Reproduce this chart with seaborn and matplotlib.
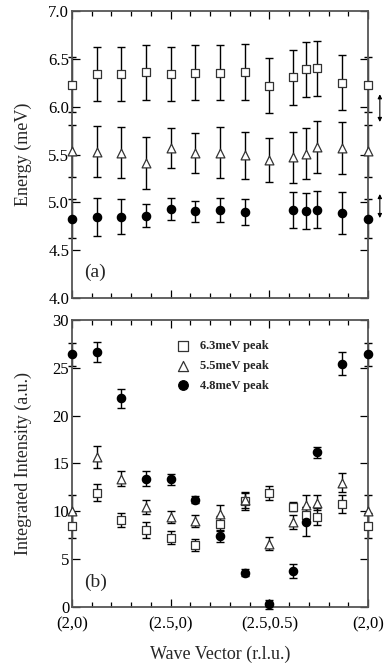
import numpy as np
import pandas as pd
import matplotlib
matplotlib.use("Agg")
import matplotlib.pyplot as plt
from matplotlib.ticker import MultipleLocator, FixedLocator, FormatStrFormatter
import seaborn as sns

# ---------------- data ----------------
qpos = [0.0, 0.25, 0.5, 0.75, 1.0, 1.25, 1.5, 1.75, 2.0, 2.24, 2.37, 2.48, 2.74, 3.0]
qtick_pos = [0, 1, 2, 3]
qtick_labels = ["(2,0)", "(2.5,0)", "(2.5,0.5)", "(2,0)"]

E63 = [6.23, 6.34, 6.34, 6.36, 6.34, 6.355, 6.355, 6.365, 6.22, 6.305, 6.39, 6.40, 6.25, 6.23]
E63_err = [0.29, 0.28, 0.28, 0.285, 0.28, 0.285, 0.285, 0.29, 0.29, 0.285, 0.285, 0.285, 0.285, 0.29]
E55 = [5.54, 5.53, 5.52, 5.41, 5.57, 5.52, 5.52, 5.49, 5.44, 5.47, 5.51, 5.58, 5.57, 5.54]
E55_err = [0.27, 0.265, 0.265, 0.27, 0.21, 0.21, 0.27, 0.245, 0.23, 0.27, 0.27, 0.275, 0.27, 0.27]
E48 = [4.83, 4.85, 4.85, 4.86, 4.93, 4.905, 4.92, 4.90, np.nan, 4.92, 4.91, 4.925, 4.885, 4.83]
E48_err = [0.2, 0.2, 0.185, 0.12, 0.115, 0.11, 0.13, 0.135, np.nan, 0.185, 0.19, 0.19, 0.22, 0.2]

I63 = [8.5, 11.93, 9.07, 8.03, 7.26, 6.46, 8.72, 11.06, 11.93, 10.5, 9.6, 9.45, 10.8, 8.5]
I63_err = [1.3, 0.9, 0.75, 0.85, 0.65, 0.6, 0.8, 0.95, 0.75, 0.5, 0.8, 0.85, 0.95, 1.3]
I55 = [10.0, 15.7, 13.43, 10.47, 9.42, 8.97, 9.77, 11.16, 6.63, 8.85, 10.7, 10.9, 12.98, 10.0]
I55_err = [1.7, 1.15, 0.75, 0.75, 0.6, 0.6, 0.9, 0.8, 0.7, 0.75, 1.05, 0.8, 1.0, 1.7]
I48 = [26.41, 26.62, 21.8, 13.43, 13.33, 11.23, 7.40, 3.6, 0.28, 3.77, 8.9, 16.15, 25.45, 26.41]
I48_err = [1.2, 1.05, 0.95, 0.75, 0.55, 0.4, 0.65, 0.35, 0.45, 0.75, 1.5, 0.6, 1.17, 1.2]

labels = ["6.3meV peak", "5.5meV peak", "4.8meV peak"]

# ---------------- style ----------------
sns.set_style("ticks")
plt.rcParams["font.family"] = ["Liberation Serif", "DejaVu Serif"]
plt.rcParams["axes.linewidth"] = 1.3
plt.rcParams["axes.edgecolor"] = "#555555"

fig = plt.figure(figsize=(3.89, 6.67), dpi=100)
ax1 = fig.add_axes([0.185, 0.5532, 0.761, 0.4303])
ax2 = fig.add_axes([0.185, 0.09, 0.761, 0.4302], sharex=ax1)

styles = [
    dict(marker="s", facecolor="white", edgecolor="#333333", s=38),
    dict(marker="^", facecolor="white", edgecolor="#333333", s=40),
    dict(marker="o", facecolor="black", edgecolor="black", s=36),
]


def draw(ax, ys, errs):
    for y, e, st, lab in zip(ys, errs, styles, labels):
        eb = ax.errorbar(qpos, y, yerr=e, fmt="none", ecolor="black",
                         elinewidth=1.0, capsize=3.2, capthick=1.0, zorder=2)
        for child in eb.get_children():
            child.set_clip_on(False)
        df = pd.DataFrame({"q": qpos, "v": y}).dropna()
        sns.scatterplot(data=df, x="q", y="v", ax=ax, marker=st["marker"],
                        s=st["s"], facecolor=st["facecolor"],
                        edgecolor=st["edgecolor"], linewidth=0.9,
                        zorder=3, clip_on=False, label=lab, legend=False)


draw(ax1, [E63, E55, E48], [E63_err, E55_err, E48_err])
draw(ax2, [I63, I55, I48], [I63_err, I55_err, I48_err])

for ax in (ax1, ax2):
    ax.set_xlim(0, 3)
    ax.xaxis.set_major_locator(FixedLocator(qtick_pos))
    ax.xaxis.set_minor_locator(MultipleLocator(0.2))
    ax.tick_params(which="both", direction="in", top=True, right=True,
                   color="black", labelsize=12, labelcolor="black")
    ax.tick_params(which="major", length=6, width=0.9)
    ax.tick_params(which="minor", length=3.5, width=0.9)
    ax.tick_params(axis="y", pad=2)
    ax.set_xlabel("")

ax1.set_ylim(4.0, 7.0)
ax1.yaxis.set_major_locator(MultipleLocator(0.5))
ax1.yaxis.set_major_formatter(FormatStrFormatter("%.1f"))
ax1.tick_params(axis="x", labelbottom=False)
ax1.set_ylabel("Energy (meV)", fontsize=13)
ax1.yaxis.set_label_coords(-0.135, 0.5)

ax2.set_ylim(0, 30)
ax2.yaxis.set_major_locator(MultipleLocator(5))
ax2.set_xticks(qtick_pos)
ax2.set_xticklabels(qtick_labels)
ax2.tick_params(axis="x", pad=7)
ax2.set_ylabel("Integrated Intensity (a.u.)", fontsize=13)
ax2.yaxis.set_label_coords(-0.135, 0.5)
ax2.set_xlabel("Wave Vector (r.l.u.)", fontsize=13)
ax2.xaxis.set_label_coords(0.5, -0.135)

ax1.text(0.078, 0.09, "(a)", transform=ax1.transAxes, fontsize=14,
         ha="center", va="center")
ax2.text(0.081, 0.087, "(b)", transform=ax2.transAxes, fontsize=14,
         ha="center", va="center")

# resolution arrows
for top, bot in [(6.13, 5.84), (5.087, 4.836)]:
    ax1.annotate("", xy=(1.04, top), xytext=(1.04, bot),
                 xycoords=("axes fraction", "data"),
                 textcoords=("axes fraction", "data"),
                 arrowprops=dict(arrowstyle="<|-|>", color="black", lw=0.8,
                                 mutation_scale=6, shrinkA=0, shrinkB=0),
                 annotation_clip=False)

leg = ax2.legend(loc="upper left", bbox_to_anchor=(0.355, 0.93), frameon=False,
                 prop=dict(family="Liberation Serif", weight="bold", size=9),
                 handlelength=1.0, handletextpad=0.8, labelspacing=0.62,
                 borderpad=0, borderaxespad=0, markerscale=1.15)

fig.savefig("out.png", dpi=100)
